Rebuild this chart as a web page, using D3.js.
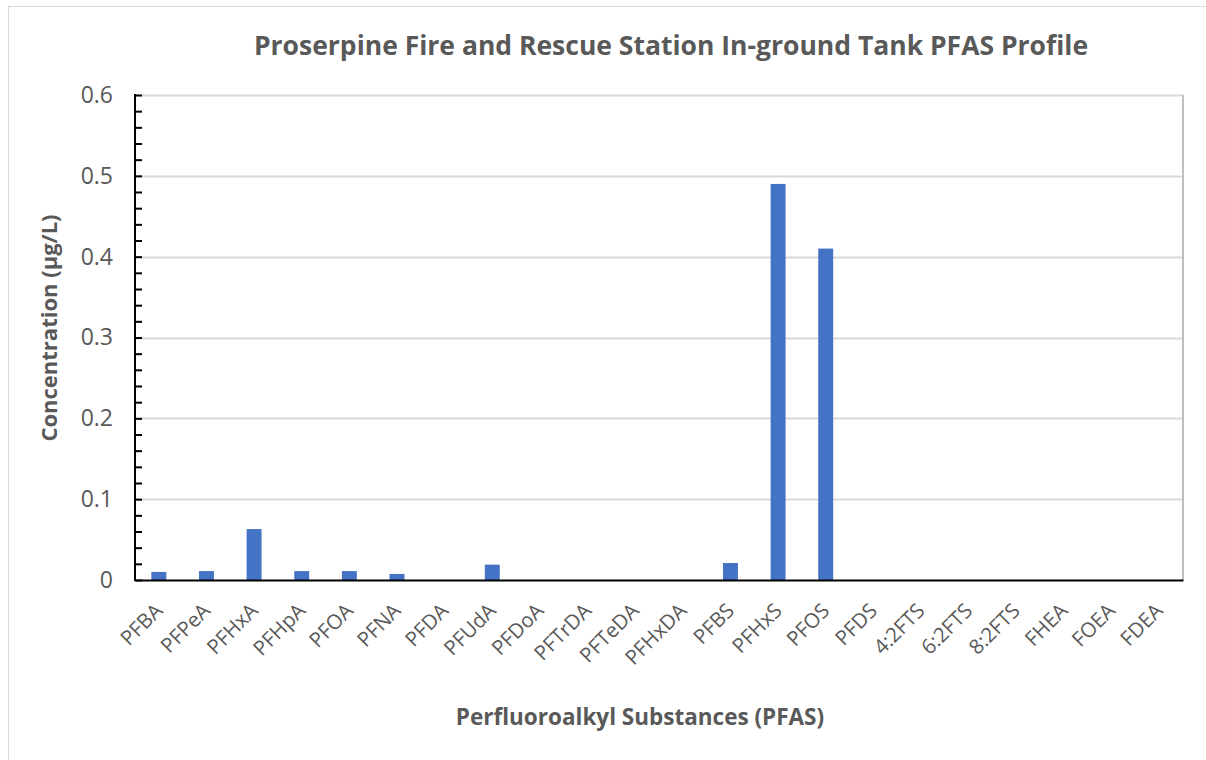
<!DOCTYPE html>
<html>
<head>
<meta charset="utf-8">
<script src="https://cdn.jsdelivr.net/npm/d3@7"></script>
<style>
  body { margin: 0; background: #fff; }
  text { font-family: "Open Sans", Calibri, sans-serif; fill: #595959; }
</style>
</head>
<body>
<div class="chart"></div>
<script>
// PFAS profile - column chart
var categories = ["PFBA", "PFPeA", "PFHxA", "PFHpA", "PFOA", "PFNA", "PFDA", "PFUdA", "PFDoA",
    "PFTrDA", "PFTeDA", "PFHxDA", "PFBS", "PFHxS", "PFOS", "PFDS", "4:2FTS", "6:2FTS", "8:2FTS",
    "FHEA", "FOEA", "FDEA"];
var concentrations = [0.010, 0.011, 0.063, 0.011, 0.011, 0.0075, 0, 0.019, 0, 0, 0, 0, 0.021,
    0.49, 0.41, 0, 0, 0, 0, 0, 0, 0];
var yTicks = [0, 0.1, 0.2, 0.3, 0.4, 0.5, 0.6];
var minorTicks = d3.range(0, 0.6001, 0.02);

var svgWidth = 1206;
var svgHeight = 760;

var margin = {
    top: 95,
    right: 23,
    bottom: 180,
    left: 135
};

var chartWidth = svgWidth - margin.left - margin.right;
var chartHeight = svgHeight - margin.top - margin.bottom;

var root = d3.select(".chart")
    .append("svg")
    .attr("width", svgWidth)
    .attr("height", svgHeight);

// outer chart border
root.append("rect")
    .attr("x", 8.5)
    .attr("y", 6.5)
    .attr("width", svgWidth)
    .attr("height", svgHeight)
    .attr("fill", "#fff")
    .attr("stroke", "#d9d9d9");

var chart = root.append("g")
    .attr("transform", "translate(" + margin.left + "," + margin.top + ")");

var xScale = d3.scaleBand()
    .domain(categories)
    .range([0, chartWidth])
    .paddingInner(0.686)
    .paddingOuter(0.343);

var yScale = d3.scaleLinear()
    .domain([0, 0.6])
    .range([chartHeight, 0]);

// gridlines
chart.append("g")
    .selectAll("line")
    .data(yTicks.slice(1))
    .enter()
    .append("line")
    .attr("x1", 0)
    .attr("x2", chartWidth)
    .attr("y1", function(d) { return Math.round(yScale(d)) + 0.5; })
    .attr("y2", function(d) { return Math.round(yScale(d)) + 0.5; })
    .attr("stroke", "#d9d9d9")
    .attr("stroke-width", 2);

// plot area right edge
chart.append("line")
    .attr("x1", chartWidth)
    .attr("x2", chartWidth)
    .attr("y1", 0)
    .attr("y2", chartHeight)
    .attr("stroke", "#bfbfbf")
    .attr("stroke-width", 2);

// bars
chart.selectAll(".bar")
    .data(concentrations)
    .enter()
    .append("rect")
    .attr("class", "bar")
    .attr("x", function(d, i) { return xScale(categories[i]); })
    .attr("y", function(d) { return yScale(d); })
    .attr("width", xScale.bandwidth())
    .attr("height", function(d) { return chartHeight - yScale(d); })
    .attr("fill", "#4472c4");

// y axis with minor ticks pointing inward
var minorAxis = d3.axisRight(yScale)
    .tickValues(minorTicks)
    .tickSize(7)
    .tickFormat("");

var yAxisG = chart.append("g").call(minorAxis);
yAxisG.select(".domain").remove();
yAxisG.selectAll("line").attr("stroke", "#000").attr("stroke-width", 2);

chart.append("line")
    .attr("x1", 0)
    .attr("x2", 0)
    .attr("y1", -1)
    .attr("y2", chartHeight + 1)
    .attr("stroke", "#000")
    .attr("stroke-width", 2);

var leftAxis = d3.axisLeft(yScale)
    .tickValues(yTicks)
    .tickSize(0)
    .tickPadding(22)
    .tickFormat(function(d) { return d === 0 ? "0" : d3.format(".1f")(d); });

var yLabels = chart.append("g").call(leftAxis);
yLabels.select(".domain").remove();
yLabels.selectAll("text")
    .style("font-size", "23px")
    .attr("fill", "#595959");

// x axis
var bottomAxis = d3.axisBottom(xScale).tickSize(0).tickPadding(0);
var xAxisG = chart.append("g")
    .attr("transform", "translate(0," + chartHeight + ")")
    .call(bottomAxis);
xAxisG.select(".domain")
    .attr("stroke", "#000")
    .attr("stroke-width", 2);
xAxisG.selectAll("text")
    .style("font-size", "20.5px")
    .attr("fill", "#595959")
    .attr("text-anchor", "end")
    .attr("dy", "0")
    .attr("y", 0)
    .attr("transform", "translate(5,32) rotate(-45)");

// titles
root.append("text")
    .attr("x", 671)
    .attr("y", 55)
    .attr("text-anchor", "middle")
    .style("font-size", "26.5px")
    .style("font-weight", "bold")
    .text("Proserpine Fire and Rescue Station In-ground Tank PFAS Profile");

root.append("text")
    .attr("x", 640)
    .attr("y", 725)
    .attr("text-anchor", "middle")
    .style("font-size", "22.5px")
    .style("font-weight", "bold")
    .text("Perfluoroalkyl Substances (PFAS)");

root.append("text")
    .attr("transform", "translate(57," + 328 + ") rotate(-90)")
    .attr("text-anchor", "middle")
    .style("font-size", "22px")
    .style("font-weight", "bold")
    .text("Concentration (µg/L)");
</script>
</body>
</html>
